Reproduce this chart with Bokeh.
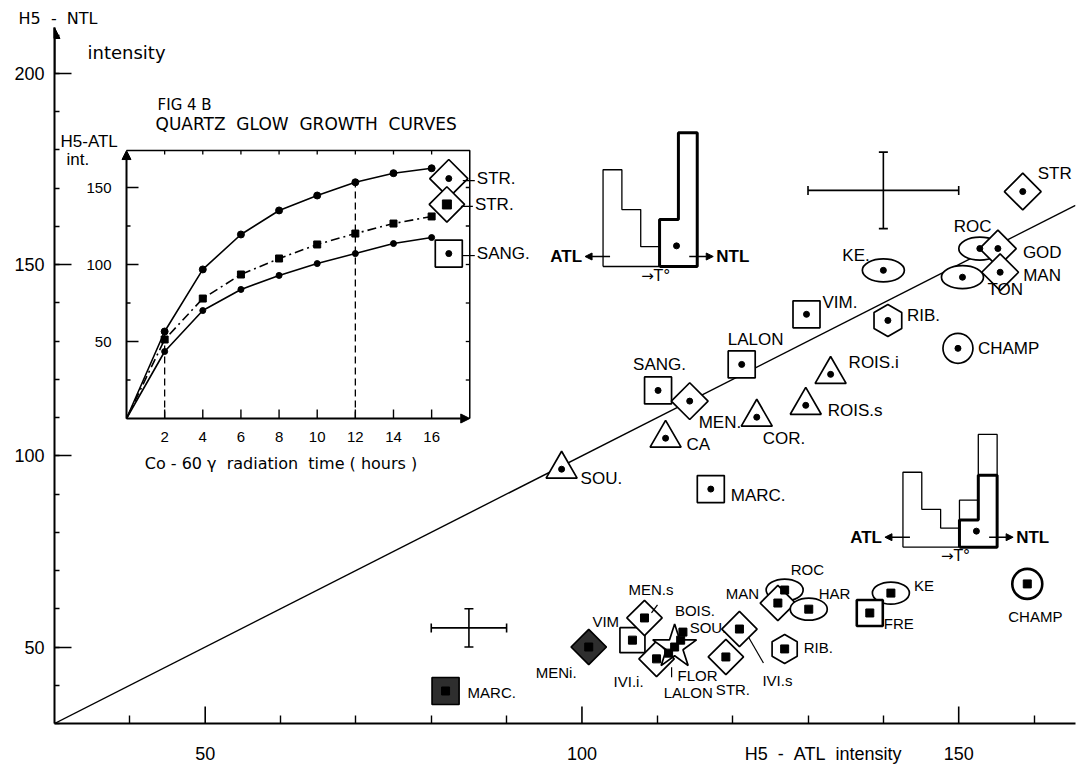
import numpy as np
from bokeh.plotting import figure
from bokeh.models import Range1d, SingleIntervalTicker, FixedTicker, Arrow, NormalHead, ColumnDataSource
from bokeh.core.properties import value
from bokeh.embed import file_html
from bokeh.resources import INLINE

NARROW = "Liberation Sans"
SANS = "DejaVu Sans"
INK = "black"
SP = "\u00a0"

# ---------------- main diagram data (H5-ATL vs H5-NTL intensity) ----------------
upper_site = ["STR", "ROC", "GOD", "MAN", "TON", "KE.", "RIB.", "CHAMP", "VIM.", "ROIS.i",
              "ROIS.s", "LALON", "SANG.", "MEN.", "CA", "COR.", "SOU.", "MARC."]
upper_atl = [158.5, 152.8, 155.2, 155.5, 150.5, 140.0, 140.6, 149.9, 129.8, 133.0,
             129.7, 121.2, 110.1, 114.3, 111.1, 123.2, 97.3, 117.1]
upper_ntl = [169.1, 154.2, 154.2, 148.0, 146.7, 148.5, 135.4, 128.1, 137.0, 121.3,
             113.2, 123.9, 117.1, 114.3, 104.6, 110.1, 96.5, 91.3]
upper_symbol = ["diamond", "ellipse", "diamond", "diamond", "ellipse", "ellipse", "hex", "circle",
                "square", "triangle", "triangle", "square", "square", "diamond", "triangle",
                "triangle", "triangle", "square"]

lower_site = ["MARC.", "MENi.", "VIM", "MEN.s", "IVI.i.", "FLOR", "LALON", "SOU.", "BOIS.",
              "STR.", "IVI.s", "RIB.", "ROC", "MAN", "HAR", "KE", "FRE", "CHAMP"]
lower_atl = [81.9, 100.9, 106.7, 108.3, 109.9, 111.5, 112.3, 113.1, 113.4,
             119.1, 120.9, 126.9, 126.9, 126.0, 130.1, 141.0, 138.2, 159.1]
lower_ntl = [38.5, 50.0, 51.8, 57.6, 46.9, 48.4, 50.0, 51.8, 53.9,
             47.4, 54.7, 49.5, 64.9, 61.5, 59.9, 64.1, 58.9, 66.5]
lower_symbol = ["filled_square", "filled_diamond", "square", "diamond", "diamond", "none", "star",
                "none", "none", "diamond", "diamond", "hex", "ellipse", "diamond", "ellipse",
                "ellipse", "thick_square", "thick_circle"]

# error crosses
err_atl = [140.0, 85.0]
err_ntl = [169.4, 55.0]
err_half_atl = [10.0, 5.0]
err_half_ntl = [10.0, 5.0]

diag_line = [30.0, 165.5]

# axis ticks
x_major = [50, 100, 150]
x_minor = [40, 60, 70, 80, 90, 110, 120, 130, 140, 160]
x_title_at = 132
x_title = SP.join(["H5", "", "-", "", "ATL", "", "intensity"])
y_title = SP.join(["H5", "", "-", "", "NTL"])

# ---------------- inset FIG 4 B: quartz glow growth curves ----------------
hours = [0, 2, 4, 6, 8, 10, 12, 14, 16]
str_top_curve = [0, 56.5, 96.8, 119.5, 135.1, 144.8, 153.4, 159.3, 162.5]
str_mid_curve = [0, 51.3, 77.9, 93.5, 103.9, 113.0, 120.1, 126.6, 131.2]
sang_curve = [0, 43.5, 70.1, 83.8, 92.9, 100.6, 107.1, 113.6, 117.5]
inset_sample = ["STR.", "STR.", "SANG."]
inset_sample_hour = [16.9, 16.8, 16.9]
inset_sample_atl = [155.8, 139.0, 107.1]
inset_x_ticks = [2, 4, 6, 8, 10, 12, 14, 16]
inset_y_ticks = [50, 100, 150]
inset_y_minor = [25, 75, 125]
inset_dashed_hours = [2, 12]
inset_x_max = 18.0
inset_y_max = 174.0

# schematic glow curves (ATL thin, NTL bold), bin heights
sketch_upper_atl = [25.3, 14.9, 5.2, 0.0, 0.0]
sketch_upper_ntl = [0.0, 0.0, 0.0, 12.3, 35.0]
sketch_lower_atl = [19.6, 9.9, 5.0, 12.3, 29.5]
sketch_lower_ntl = [0.0, 0.0, 0.0, 7.1, 18.8]

# ---------------- geometry ----------------
W, H = 1080, 766
LEFT, RIGHT, TOP, BOTTOM = 54, 5, 27, 43
X0, X1 = 30.0, 165.5
Y0, Y1 = 30.0, 212.0
FW, FH = W - LEFT - RIGHT, H - TOP - BOTTOM
SX = FW / (X1 - X0)   # px per x unit
SY = FH / (Y1 - Y0)   # px per y unit

IH = (-3.776, -3.776 + FW / 19.07)
IV = (-198.05, -198.05 + FH / 1.54)
ISX = 19.07
ISY = 1.54

p = figure(width=W, height=H, x_range=Range1d(X0, X1), y_range=Range1d(Y0, Y1),
           output_backend="svg", toolbar_location=None, title=y_title,
           min_border_left=LEFT, min_border_right=RIGHT, min_border_top=TOP, min_border_bottom=BOTTOM)
p.title.align = "left"
p.title.offset = -36
p.title.standoff = 0
p.title.text_font = SANS
p.title.text_font_style = "normal"
p.title.text_font_size = "16px"
p.title.text_color = INK
p.extra_x_ranges = {"ih": Range1d(*IH)}
p.extra_y_ranges = {"iv": Range1d(*IV)}
p.grid.visible = False
p.outline_line_color = None
p.background_fill_color = "white"
p.border_fill_color = "white"

p.xaxis.ticker = FixedTicker(ticks=x_major + [x_title_at], minor_ticks=x_minor)
p.xaxis.major_label_overrides = {x_title_at: x_title}
p.yaxis.ticker = SingleIntervalTicker(interval=50, num_minor_ticks=5)
for ax, major_in, minor_in in ((p.xaxis, 0, 8), (p.yaxis, 17, 5)):
    ax.axis_line_width = 2
    ax.axis_line_color = INK
    ax.major_tick_in = major_in
    ax.major_tick_out = 0
    ax.minor_tick_in = minor_in
    ax.minor_tick_out = 0
    ax.major_tick_line_width = 1.6
    ax.minor_tick_line_width = 1.4
    ax.major_tick_line_color = INK
    ax.minor_tick_line_color = INK
    ax.major_label_text_font = NARROW
    ax.major_label_text_font_size = "18px"
    ax.major_label_text_color = INK
p.xaxis.major_label_standoff = 20
p.yaxis.major_label_standoff = 10
# x major tick marks (inward)
p.segment(x_major, [Y0] * 3, x_major, [Y0 + 17 / SY] * 3, line_color=INK, line_width=1.6)

# axis arrow (y)
p.add_layout(Arrow(x_start=X0, y_start=200, x_end=X0, y_end=Y1, line_width=2,
                   end=NormalHead(size=11, fill_color=INK, line_color=INK)))
p.text([X0], [Y1], text=["intensity"], x_offset=33, y_offset=25, text_font=value(SANS),
       text_font_size="18px", text_baseline="middle", text_align="left", text_color=INK)

# diagonal y = x
p.line(diag_line, diag_line, line_color=INK, line_width=1.4)

# error crosses
for cx, cy, hx, hy in zip(err_atl, err_ntl, err_half_atl, err_half_ntl):
    p.segment([cx - hx, cx], [cy, cy - hy], [cx + hx, cx], [cy, cy + hy], line_color=INK, line_width=1.6)
    p.scatter([cx - hx, cx + hx], [cy, cy], marker="dash", angle=np.pi / 2, size=9,
              line_color=INK, line_width=1.6)
    p.scatter([cx, cx], [cy - hy, cy + hy], marker="dash", size=9, line_color=INK, line_width=1.6)

# schematic glow-curve sketches
BW = 2.5


def outline(x0, y0, heights):
    idx = [i for i, h in enumerate(heights) if h > 0]
    i0, i1 = idx[0], idx[-1]
    xs, ys = [x0 + i0 * BW], [y0]
    for i in range(i0, i1 + 1):
        xs += [x0 + i * BW, x0 + (i + 1) * BW]
        ys += [y0 + heights[i], y0 + heights[i]]
    xs += [x0 + (i1 + 1) * BW, x0 + i0 * BW]
    ys += [y0, y0]
    return xs, ys


def sketch(x0, y0, atl, ntl, dot_dy):
    xs, ys = outline(x0, y0, atl)
    p.line(xs, ys, line_color=INK, line_width=1.3)
    xs, ys = outline(x0, y0, ntl)
    p.line(xs, ys, line_color=INK, line_width=3)
    p.scatter([x0 + 3.9 * BW], [y0 + dot_dy], marker="circle", size=6, color=INK)
    xr = x0 + len(atl) * BW
    ya = y0 + 10 / SY
    p.add_layout(Arrow(x_start=x0 + 7 / SX, y_start=ya, x_end=x0 - 18 / SX, y_end=ya, line_width=1.6,
                       end=NormalHead(size=7, fill_color=INK, line_color=INK)))
    p.add_layout(Arrow(x_start=xr - 8 / SX, y_start=ya, x_end=xr + 16 / SX, y_end=ya, line_width=1.6,
                       end=NormalHead(size=7, fill_color=INK, line_color=INK)))
    p.text([x0 - 21 / SX], [ya], text=["ATL"], text_font=value(NARROW), text_font_size="17px",
           text_align="right", text_baseline="middle", text_color=INK, text_font_style="bold")
    p.text([xr + 19 / SX], [ya], text=["NTL"], text_font=value(NARROW), text_font_size="17px",
           text_align="left", text_baseline="middle", text_color=INK, text_font_style="bold")
    p.text([x0 + 2.8 * BW], [y0 - 9 / SY], text=["\u2192T\u00b0"], text_font=value(SANS),
           text_font_size="15px", text_align="center", text_baseline="middle", text_color=INK)


sketch(102.8, 149.5, sketch_upper_atl, sketch_upper_ntl, 5.4)
sketch(142.6, 76.1, sketch_lower_atl, sketch_lower_ntl, 4.2)

# ---------------- symbols ----------------
UPPER_STYLE = {
    "diamond": dict(marker="square", angle=np.pi / 4, size=26),
    "square": dict(marker="square", size=27),
    "triangle": dict(marker="triangle", size=31),
    "hex": dict(marker="hex", angle=np.pi / 2, size=32),
    "circle": dict(marker="circle", size=30),
    "ellipse": (42, 23),
}
LOWER_STYLE = {
    "diamond": dict(marker="square", angle=np.pi / 4, size=25),
    "square": dict(marker="square", size=25),
    "thick_square": dict(marker="square", size=26, line_width=2.6),
    "hex": dict(marker="hex", angle=np.pi / 2, size=29),
    "thick_circle": dict(marker="circle", size=30, line_width=2.6),
    "star": dict(marker="star", size=46),
    "filled_square": dict(marker="square", size=27, fill_color="#2e2e2e"),
    "filled_diamond": dict(marker="square", angle=np.pi / 4, size=25, fill_color="#2e2e2e"),
    "ellipse": (37, 22),
}


def draw_symbols(xs, ys, kinds, styles):
    for x, y, k in zip(xs, ys, kinds):
        if k == "none":
            continue
        st = styles[k]
        if k == "ellipse":
            p.ellipse([x], [y], width=st[0] / SX, height=st[1] / SY, fill_color="white",
                      line_color=INK, line_width=1.7)
        else:
            kw = dict(fill_color="white", line_color=INK, line_width=1.7)
            kw.update(st)
            p.scatter([x], [y], **kw)


draw_symbols(upper_atl, upper_ntl, upper_symbol, UPPER_STYLE)
draw_symbols(lower_atl, lower_ntl, lower_symbol, LOWER_STYLE)
p.scatter(upper_atl, upper_ntl, marker="circle", size=6, color=INK)
p.scatter(lower_atl, lower_ntl, marker="square", size=8, color=INK)

# labels (offsets in screen px from the point)
upper_dx = [15, -26, 25, 23, 25, -41, 19, 20, 16, 18, 22, -14, -25, 9, 21, 6, 19, 20]
upper_dy = [-18, -22, 4, 3, 12, -15, -5, 0, -12, -12, 5, -25, -26, 21, 6, 21, 9, 6]
lower_dx = [22, -53, -40, -16, -43, 9, -11, 9, -8, -10, 23, 19, 6, -52, 10, 23, 14, -19]
lower_dy = [2, 25, -19, -28, 23, 22, 45, -13, -22, 33, 51, -1, -21, -10, -16, -8, 11, 33]

p.text(x="x", y="y", text="t", x_offset="dx", y_offset="dy",
       source=ColumnDataSource(dict(x=upper_atl, y=upper_ntl, t=upper_site, dx=upper_dx, dy=upper_dy)),
       text_font=value(NARROW), text_font_size="17px", text_baseline="middle", text_align="left",
       text_color=INK)
p.text(x="x", y="y", text="t", x_offset="dx", y_offset="dy",
       source=ColumnDataSource(dict(x=lower_atl, y=lower_ntl, t=lower_site, dx=lower_dx, dy=lower_dy)),
       text_font=value(NARROW), text_font_size="15px", text_baseline="middle", text_align="left",
       text_color=INK)

# leader lines for crowded lower labels
leaders = {"MEN.s": (7, -5, 13, -13), "IVI.s": (9, 8, 24, 34), "FLOR": (3, 14, 3, 24)}
for name, (a, b, c, d) in leaders.items():
    i = lower_site.index(name)
    x, y = lower_atl[i], lower_ntl[i]
    p.line([x + a / SX, x + c / SX], [y - b / SY, y - d / SY], line_color=INK, line_width=1.2)

# ---------------- inset ----------------
R = dict(x_range_name="ih", y_range_name="iv")
p.add_layout(Arrow(x_start=0, y_start=0, x_end=0, y_end=inset_y_max, line_width=2,
                   end=NormalHead(size=9, fill_color=INK, line_color=INK), **R))
p.add_layout(Arrow(x_start=0, y_start=0, x_end=inset_x_max, y_end=0, line_width=2,
                   end=NormalHead(size=9, fill_color=INK, line_color=INK), **R))
p.line([0, inset_x_max, inset_x_max], [inset_y_max, inset_y_max, 0], line_color=INK, line_width=1.5, **R)

# inset ticks
ty = inset_y_ticks
p.segment([0] * len(ty), ty, [12 / ISX] * len(ty), ty, line_color=INK, line_width=1.5, **R)
p.segment([0] * 3, inset_y_minor, [4 / ISX] * 3, inset_y_minor, line_color=INK, line_width=1.3, **R)
allv = sorted(inset_y_ticks + inset_y_minor)
p.segment([inset_x_max] * len(allv), allv, [inset_x_max - 4 / ISX] * len(allv), allv,
          line_color=INK, line_width=1.3, **R)
tx = inset_x_ticks
p.segment(tx, [0] * len(tx), tx, [9 / ISY] * len(tx), line_color=INK, line_width=1.4, **R)
p.segment(tx, [inset_y_max] * len(tx), tx, [inset_y_max - 4 / ISY] * len(tx),
          line_color=INK, line_width=1.3, **R)

p.text(tx, [0] * len(tx), text=[str(v) for v in tx], y_offset=18, text_font=value(NARROW),
       text_font_size="15px", text_align="center", text_baseline="middle", text_color=INK, **R)
p.text([0] * len(ty), ty, text=[str(v) for v in ty], x_offset=-15, text_font=value(NARROW),
       text_font_size="15px", text_align="right", text_baseline="middle", text_color=INK, **R)
xlab = SP.join(["Co", "-", "60", "\u03b3", "", "radiation", "", "time", "(", "hours", ")"])
p.text([8.1], [0], text=[xlab], y_offset=45, text_font=value(SANS),
       text_font_size="16px", text_align="center", text_baseline="middle", text_color=INK, **R)
p.text([1.63], [inset_y_max], text=[SP.join(["FIG", "4", "B"])], y_offset=-46, text_font=value(SANS),
       text_font_size="15px", text_align="left", text_baseline="middle", text_color=INK, **R)
ttl = SP.join(["QUARTZ", "", "GLOW", "", "GROWTH", "", "CURVES"])
p.text([1.52], [inset_y_max], text=[ttl], y_offset=-27, text_font=value(SANS),
       text_font_size="17px", text_align="left", text_baseline="middle", text_color=INK, **R)
p.text([0], [inset_y_max], text=["H5-ATL"], x_offset=-66, y_offset=-9, text_font=value(NARROW),
       text_font_size="17px", text_align="left", text_baseline="middle", text_color=INK, **R)
p.text([0], [inset_y_max], text=["int."], x_offset=-60, y_offset=9, text_font=value(NARROW),
       text_font_size="17px", text_align="left", text_baseline="middle", text_color=INK, **R)

# dashed reference lines
for hh in inset_dashed_hours:
    k = hours.index(hh)
    p.line([hh, hh], [0, str_top_curve[k]], line_color=INK, line_width=1.3, line_dash="7 4", **R)

p.line(hours, str_top_curve, line_color=INK, line_width=1.6, **R)
p.line(hours, str_mid_curve, line_color=INK, line_width=1.6, line_dash="9 4 2 4", **R)
p.line(hours, sang_curve, line_color=INK, line_width=1.6, **R)
p.scatter(hours[1:], str_top_curve[1:], marker="circle", size=7, color=INK, **R)
p.scatter(hours[1:], str_mid_curve[1:], marker="square", size=7, color=INK, **R)
p.scatter(hours[1:], sang_curve[1:], marker="circle", size=6, color=INK, **R)

# inset sample symbols
ins_style = [dict(marker="square", angle=np.pi / 4, size=27),
             dict(marker="square", angle=np.pi / 4, size=25),
             dict(marker="square", size=27)]
ins_dot = [dict(marker="circle", size=6), dict(marker="square", size=9), dict(marker="circle", size=6)]
for hx, av, st, dt in zip(inset_sample_hour, inset_sample_atl, ins_style, ins_dot):
    p.scatter([hx], [av], fill_color="white", line_color=INK, line_width=1.7, **st, **R)
    p.scatter([hx], [av], color=INK, **dt, **R)
    p.line([hx + 14 / ISX, hx + 26 / ISX], [av - 2 / ISY, av - 2 / ISY], line_color=INK, line_width=1.2, **R)
p.text(inset_sample_hour, inset_sample_atl, text=inset_sample, x_offset=28, text_font=value(NARROW),
       text_font_size="17px", text_align="left", text_baseline="middle", text_color=INK, **R)

open("out.html", "w").write(file_html(p, INLINE))
